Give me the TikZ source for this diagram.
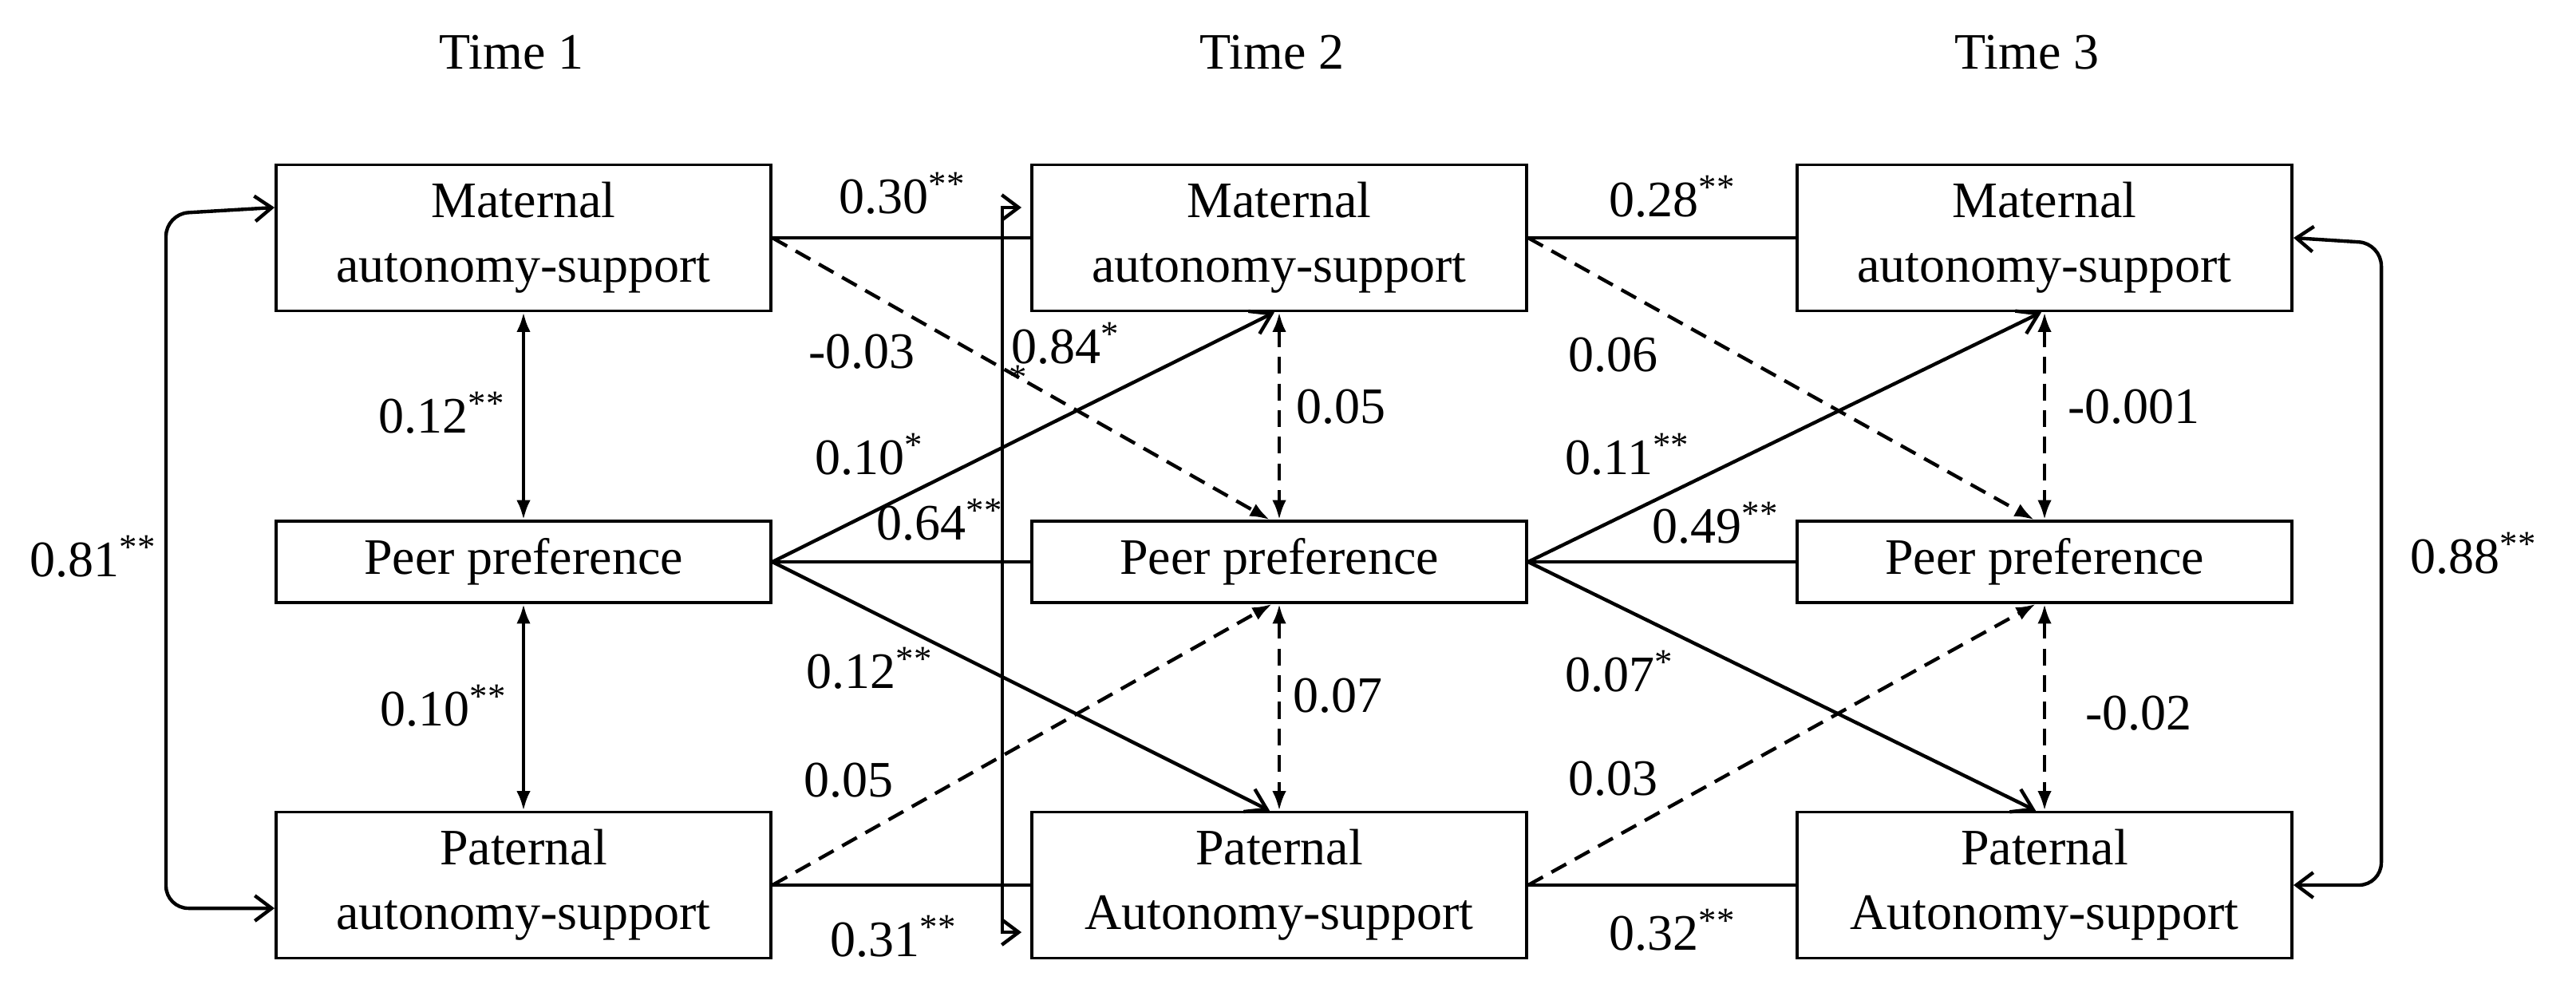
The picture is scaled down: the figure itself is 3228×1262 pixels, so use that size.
\documentclass[tikz,border=0pt]{standalone}
\usepackage{fontspec}
\setmainfont{Liberation Serif}
\usetikzlibrary{arrows.meta}

\tikzset{
  box/.style={draw,line width=1pt,minimum width=6.2cm,align=center,inner sep=2pt},
  tall/.style={box,minimum height=1.83cm},
  flat/.style={box,minimum height=1.02cm},
  coef/.style={inner sep=1pt},
  link/.style={line width=1.25pt},
  sarr/.style={link,-{Straight Barb[length=7pt,width=9pt]}},
  darr/.style={link,dash pattern=on 6pt off 3.5pt,-{Latex[length=7pt,width=5pt]}},
  corr/.style={link,{Latex[length=7pt,width=5pt]}-{Latex[length=7pt,width=5pt]}},
  dcorr/.style={corr,dash pattern=on 6pt off 3.5pt},
  brk/.style={link,{Straight Barb[length=6pt,width=9pt]}-{Straight Barb[length=6pt,width=9pt]},rounded corners=8pt},
}

\begin{document}
\begin{tikzpicture}[x=0.01cm,y=-0.01cm,font=\fontsize{18.2}{23}\selectfont]
\useasboundingbox (0,0) rectangle (3228,1262);
% time headers
\node (t1) at (641,66) {Time 1};
\node (t2) at (1594,66) {Time 2};
\node (t3) at (2540,66) {Time 3};
% boxes
\node[tall] (m1) at (656,298) {Maternal\\autonomy-support};
\node[flat] (p1) at (656,704) {Peer preference};
\node[tall] (f1) at (656,1109) {Paternal\\autonomy-support};
\node[tall] (m2) at (1603,298) {Maternal\\autonomy-support};
\node[flat] (p2) at (1603,704) {Peer preference};
\node[tall] (f2) at (1603,1109) {Paternal\\Autonomy-support};
\node[tall] (m3) at (2562,298) {Maternal\\autonomy-support};
\node[flat] (p3) at (2562,704) {Peer preference};
\node[tall] (f3) at (2562,1109) {Paternal\\Autonomy-support};
% time 1
\draw[corr] (m1.south) -- (p1.north);
\draw[corr] (p1.south) -- (f1.north);
\draw[brk] ([yshift=.38cm]m1.west) -- ++(-1.36cm,-.08cm) |- ([yshift=-.29cm]f1.west);
\node[coef] (r12) at (554,517) {0.12\textsuperscript{**}};
\node[coef] (r10) at (556,884) {0.10\textsuperscript{**}};
\node[coef] (r81) at (117,697) {0.81\textsuperscript{**}};
% time 1 -> time 2
\draw[link] (m1.east) -- (m2.west);
\draw[link] (p1.east) -- (p2.west);
\draw[link] (f1.east) -- (f2.west);
\draw[darr] (m1.east) -- ([xshift=-.12cm]p2.north);
\draw[sarr] (p1.east) -- ([xshift=-.06cm]m2.south);
\draw[sarr] (p1.east) -- ([xshift=-.12cm]f2.north);
\draw[darr] (f1.east) -- ([xshift=-.09cm]p2.south);
\node[coef] (c30) at (1131,242) {0.30\textsuperscript{**}};
\node[coef] (c03) at (1080,441) {-0.03};
\node[coef] (c10) at (1090,569) {0.10\textsuperscript{*}};
\node[coef] (c64) at (1178,651) {0.64\textsuperscript{**}};
\node[coef] (c12) at (1090,837) {0.12\textsuperscript{**}};
\node[coef] (c05) at (1063,978) {0.05};
\node[coef] (c31) at (1120,1173) {0.31\textsuperscript{**}};
% time 2
\draw[brk,rounded corners=0pt] ([shift={(-.11cm,.38cm)}]m2.west) -- ++(-.24cm,0) |- ([shift={(-.11cm,-.59cm)}]f2.west);
\draw[dcorr] (m2.south) -- (p2.north);
\draw[dcorr] (p2.south) -- (f2.north);
\node[coef] (r84) at (1336,430) {0.84\textsuperscript{*}};
\node[inner sep=0pt] (r84s) at (1277,484) {\textsuperscript{*}};
\node[coef] (r05) at (1680,510) {0.05};
\node[coef] (r07) at (1676,872) {0.07};
% time 2 -> time 3
\draw[link] (m2.east) -- (m3.west);
\draw[link] (p2.east) -- (p3.west);
\draw[link] (f2.east) -- (f3.west);
\draw[darr] (m2.east) -- ([xshift=-.13cm]p3.north);
\draw[sarr] (p2.east) -- ([xshift=-.04cm]m3.south);
\draw[sarr] (p2.east) -- ([xshift=-.11cm]f3.north);
\draw[darr] (f2.east) -- ([xshift=-.11cm]p3.south);
\node[coef] (c28) at (2096,246) {0.28\textsuperscript{**}};
\node[coef] (c06) at (2021,445) {0.06};
\node[coef] (c11) at (2040,569) {0.11\textsuperscript{**}};
\node[coef] (c49) at (2150,655) {0.49\textsuperscript{**}};
\node[coef] (c07) at (2030,841) {0.07\textsuperscript{*}};
\node[coef] (c03b) at (2021,976) {0.03};
\node[coef] (c32) at (2096,1165) {0.32\textsuperscript{**}};
% time 3
\draw[dcorr] (m3.south) -- (p3.north);
\draw[dcorr] (p3.south) -- (f3.north);
\draw[brk] (m3.east) -- ++(1.1cm,-.07cm) |- (f3.east);
\node[coef] (r001) at (2674,510) {-0.001};
\node[coef] (r02) at (2680,894) {-0.02};
\node[coef] (r88) at (3100,693) {0.88\textsuperscript{**}};
\end{tikzpicture}
\end{document}
